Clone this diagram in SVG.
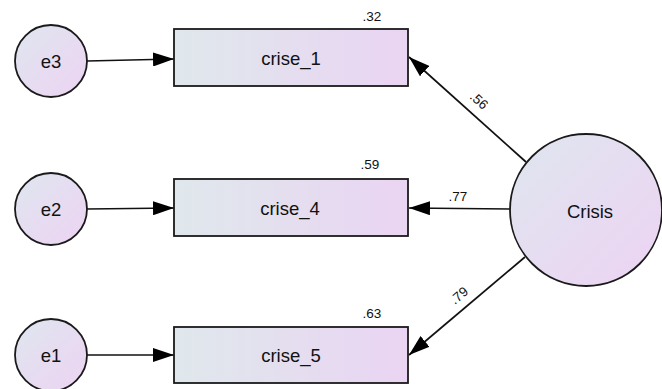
<svg xmlns="http://www.w3.org/2000/svg" width="662" height="389" viewBox="0 0 662 389">
  <style>
    .node-shape { stroke: #1a1a1a; stroke-width: 1.8; }
    .node-text { font-family: "Liberation Sans", Arial, sans-serif; font-size: 18.5px; fill: #111; text-anchor: middle; dominant-baseline: central; }
    .coef { font-family: "Liberation Sans", Arial, sans-serif; font-size: 13.5px; fill: #111; text-anchor: middle; }
    .edge { stroke: #111; stroke-width: 1.7; fill: none; marker-end: url(#arrow); }
  </style>
  <defs>
    <linearGradient id="boxFill" x1="0" y1="0" x2="1" y2="0">
      <stop offset="0" stop-color="#dfe8ec"/>
      <stop offset="1" stop-color="#ead4f3"/>
    </linearGradient>
    <linearGradient id="circFill" x1="0" y1="0" x2="1" y2="1">
      <stop offset="0" stop-color="#dfe6ef"/>
      <stop offset="1" stop-color="#edd3f3"/>
    </linearGradient>
    <marker id="arrow" markerUnits="userSpaceOnUse" markerWidth="22" markerHeight="14" refX="21" refY="7" orient="auto">
      <path d="M0,0 L21,7 L0,14 z" fill="#000"/>
    </marker>
  </defs>

  <!-- connectors -->
  <g id="connectors">
    <line class="edge" x1="87" y1="61" x2="174" y2="59"/>
    <line class="edge" x1="87" y1="209" x2="174" y2="208"/>
    <line class="edge" x1="87" y1="355" x2="174" y2="355"/>
    <line class="edge" x1="526" y1="162" x2="409" y2="57"/>
    <line class="edge" x1="510" y1="209" x2="409" y2="208"/>
    <line class="edge" x1="525" y1="257" x2="409" y2="355"/>
    <text class="coef" transform="translate(476,104) rotate(42)">.56</text>
    <text class="coef" x="458" y="201">.77</text>
    <text class="coef" transform="translate(462,299) rotate(-40)">.79</text>
  </g>

  <!-- error terms -->
  <g id="e3">
    <circle class="node-shape" cx="51" cy="61" r="36" fill="url(#circFill)"/>
    <text class="node-text" x="51" y="61">e3</text>
  </g>
  <g id="e2">
    <circle class="node-shape" cx="51" cy="209" r="36" fill="url(#circFill)"/>
    <text class="node-text" x="51" y="209">e2</text>
  </g>
  <g id="e1">
    <circle class="node-shape" cx="51" cy="355" r="36" fill="url(#circFill)"/>
    <text class="node-text" x="51" y="355">e1</text>
  </g>

  <!-- observed indicators -->
  <g id="crise_1">
    <rect class="node-shape" x="174" y="29" width="234" height="57" fill="url(#boxFill)"/>
    <text class="node-text" x="291" y="58">crise_1</text>
    <text class="coef" x="372" y="21">.32</text>
  </g>
  <g id="crise_4">
    <rect class="node-shape" x="174" y="179" width="234" height="57" fill="url(#boxFill)"/>
    <text class="node-text" x="290" y="208">crise_4</text>
    <text class="coef" x="370" y="169">.59</text>
  </g>
  <g id="crise_5">
    <rect class="node-shape" x="174" y="327" width="234" height="56" fill="url(#boxFill)"/>
    <text class="node-text" x="291" y="355">crise_5</text>
    <text class="coef" x="372" y="318">.63</text>
  </g>

  <!-- latent factor -->
  <g id="Crisis">
    <circle class="node-shape" cx="586" cy="210" r="76" fill="url(#circFill)"/>
    <text class="node-text" x="590" y="211">Crisis</text>
  </g>
</svg>
